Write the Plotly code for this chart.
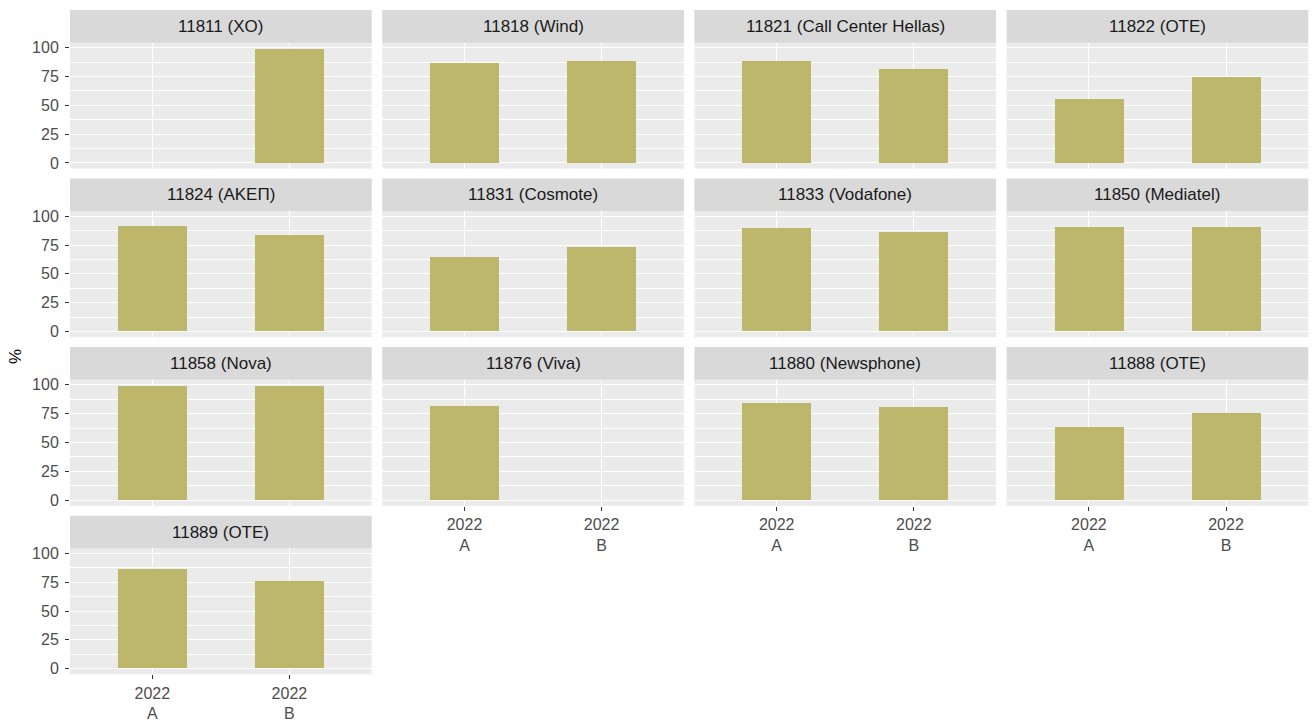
import plotly.graph_objects as go

# ---------------- data ----------------
panels = ["11811 (XO)", "11818 (Wind)", "11821 (Call Center Hellas)", "11822 (OTE)",
          "11824 (ΑΚΕΠ)", "11831 (Cosmote)", "11833 (Vodafone)", "11850 (Mediatel)",
          "11858 (Nova)", "11876 (Viva)", "11880 (Newsphone)", "11888 (OTE)",
          "11889 (OTE)"]
categories = ["2022<br>A", "2022<br>B"]
values_A = [None, 87.3, 88.8, 55.7, 91.4, 64.1, 89.9, 90.3, 99.2, 81.7, 84.0, 63.6, 86.3]
values_B = [99.5, 88.8, 81.6, 74.4, 83.1, 73.3, 86.5, 90.3, 99.2, None, 80.5, 75.7, 75.8]
y_ticks = [0, 25, 50, 75, 100]
y_minor = [12.5, 37.5, 62.5, 87.5]
y_title = "%"

# ---------------- style / layout ----------------
W, H = 1312, 722
FONT = "Liberation Sans, Arial, sans-serif"
BAR = "#BDB76B"
col_x0 = [70, 382.2, 694.4, 1006.6]
pw = 301.7
row_pitch = 170
strip_top, strip_bot, panel_bot = 7, 40, 167

fig = go.Figure()
shapes, annots = [], []
layout = {}

for i, name in enumerate(panels):
    r, c = divmod(i, 4)
    sfx = "" if i == 0 else str(i + 1)
    x0 = col_x0[c]
    x1 = x0 + pw
    st = strip_top + row_pitch * r
    pt = strip_bot + row_pitch * r
    pb = panel_bot + row_pitch * r

    fig.add_trace(go.Bar(
        x=categories, y=[values_A[i], values_B[i]],
        xaxis="x" + sfx, yaxis="y" + sfx,
        marker=dict(color=BAR, line=dict(width=0)),
        width=0.5, showlegend=False,
    ))

    show_x = (r == 3) or (r == 2 and c > 0)
    show_y = (c == 0)

    layout["xaxis" + sfx] = dict(
        domain=[x0 / W, x1 / W], anchor="y" + sfx,
        type="category", categoryorder="array", categoryarray=categories,
        range=[-0.6, 1.6],
        showgrid=True, gridcolor="white", gridwidth=1.4,
        zeroline=False, showline=False,
        showticklabels=show_x,
        ticks="outside" if show_x else "", ticklen=4, tickwidth=1, tickcolor="#333333",
        tickfont=dict(family=FONT, size=16, color="#4D4D4D"),
        fixedrange=True,
    )
    layout["yaxis" + sfx] = dict(
        domain=[1 - pb / H, 1 - pt / H], anchor="x" + sfx,
        range=[-4.9, 104.3],
        tickvals=y_ticks,
        showgrid=True, gridcolor="white", gridwidth=1.4,
        minor=dict(tickvals=y_minor, showgrid=True, gridcolor="white", gridwidth=0.6, ticks=""),
        zeroline=False, showline=False,
        showticklabels=show_y,
        ticks="outside" if show_y else "", ticklen=4, tickwidth=1, tickcolor="#333333",
        ticklabelstandoff=3,
        tickfont=dict(family=FONT, size=16, color="#4D4D4D"),
        fixedrange=True,
    )

    shapes.append(dict(
        type="rect", xref="paper", yref="paper",
        x0=x0 / W, x1=x1 / W, y0=1 - pt / H, y1=1 - st / H,
        fillcolor="#D9D9D9", line=dict(width=0), layer="below",
    ))
    annots.append(dict(
        text=name, xref="paper", yref="paper",
        x=(x0 + x1) / 2 / W, y=1 - (st + pt) / 2 / H,
        xanchor="center", yanchor="middle", showarrow=False,
        font=dict(family=FONT, size=17, color="#1A1A1A"),
    ))

annots.append(dict(
    text=y_title, xref="paper", yref="paper",
    x=15 / W, y=1 - 357 / H, xanchor="center", yanchor="middle",
    textangle=-90, showarrow=False,
    font=dict(family=FONT, size=17, color="#000000"),
))

fig.update_layout(
    width=W, height=H,
    margin=dict(l=0, r=0, t=0, b=0),
    plot_bgcolor="#EBEBEB", paper_bgcolor="white",
    bargap=0, shapes=shapes, annotations=annots,
    font=dict(family=FONT), hovermode=False,
    **layout,
)

fig.write_html("out.html",
               config={"displayModeBar": False, "staticPlot": False},
               post_script="document.body.style.margin='0px';document.body.style.overflow='hidden';")
